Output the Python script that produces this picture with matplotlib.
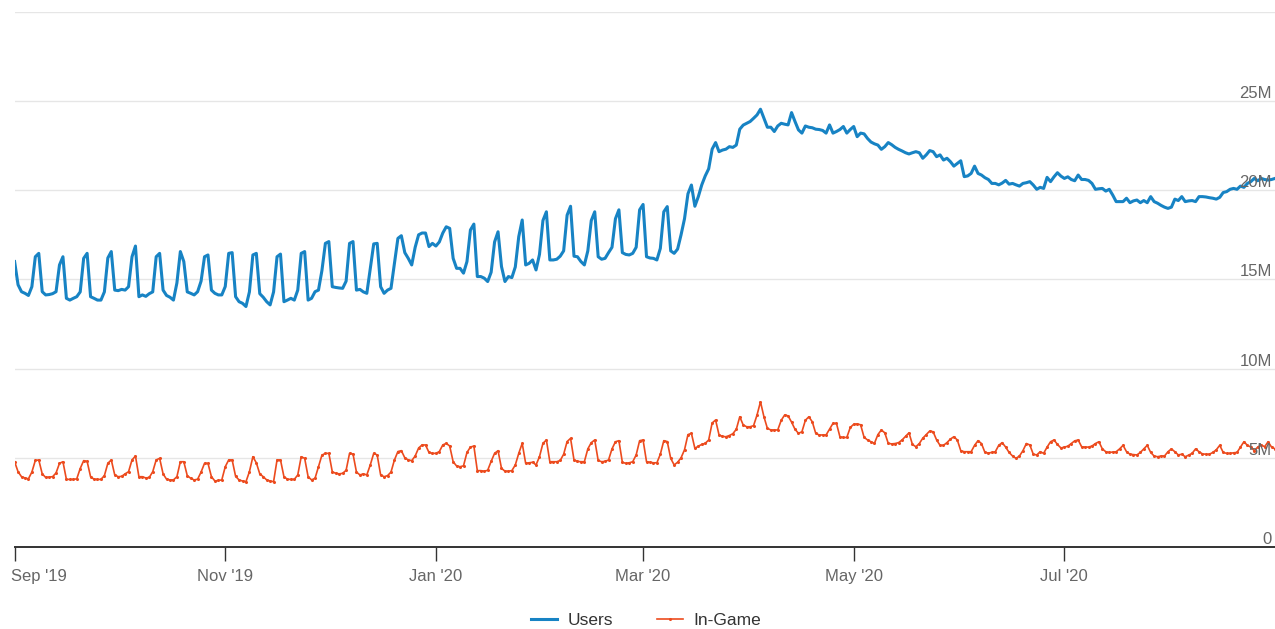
import matplotlib
matplotlib.use("Agg")
import matplotlib.pyplot as plt
import matplotlib.transforms as mtrans
from matplotlib.ticker import FixedLocator
import pandas as pd

plt.rcParams['font.family'] = ['Liberation Sans', 'DejaVu Sans']

start_date = "2019-09-01"

users = [
    16.0, 14.7, 14.31, 14.22, 14.1, 14.59, 16.27,
    16.46, 14.31, 14.13, 14.15, 14.2, 14.31, 15.81,
    16.27, 13.94, 13.84, 13.94, 14.03, 14.3, 16.18,
    16.46, 14.03, 13.94, 13.84, 13.84, 14.3, 16.2,
    16.56, 14.4, 14.37, 14.44, 14.4, 14.59, 16.27,
    16.87, 14.03, 14.13, 14.05, 14.2, 14.3, 16.27,
    16.46, 14.4, 14.1, 14.0, 13.84, 14.8, 16.56,
    16.0, 14.3, 14.22, 14.13, 14.31, 14.9, 16.27,
    16.37, 14.4, 14.22, 14.13, 14.13, 14.6, 16.46,
    16.5, 14.03, 13.75, 13.66, 13.48, 14.3, 16.37,
    16.46, 14.2, 14.0, 13.75, 13.57, 14.3, 16.27,
    16.42, 13.75, 13.84, 13.94, 13.84, 14.4, 16.46,
    16.56, 13.84, 13.94, 14.31, 14.4, 15.5, 17.02,
    17.12, 14.59, 14.55, 14.52, 14.5, 14.9, 17.02,
    17.12, 14.4, 14.44, 14.3, 14.22, 15.6, 16.99,
    17.02, 14.59, 14.22, 14.4, 14.5, 15.9, 17.3,
    17.45, 16.5, 16.18, 15.81, 16.8, 17.5, 17.6,
    17.6, 16.84, 17.02, 16.87, 17.1, 17.6, 17.95,
    17.86, 16.18, 15.62, 15.62, 15.35, 16.0, 17.77,
    18.1, 15.16, 15.16, 15.07, 14.88, 15.4, 17.1,
    17.67, 15.72, 14.88, 15.16, 15.1, 15.7, 17.4,
    18.33, 15.81, 15.9, 16.09, 15.53, 16.4, 18.3,
    18.79, 16.09, 16.09, 16.13, 16.3, 16.6, 18.6,
    19.1, 16.3, 16.27, 16.0, 15.81, 16.6, 18.3,
    18.79, 16.27, 16.13, 16.18, 16.5, 16.8, 18.4,
    18.9, 16.5, 16.4, 16.37, 16.46, 16.8, 18.9,
    19.2, 16.27, 16.2, 16.18, 16.09, 16.74, 18.79,
    19.08, 16.6, 16.46, 16.7, 17.5, 18.4, 19.8,
    20.29, 19.1, 19.64, 20.3, 20.8, 21.2, 22.3,
    22.67, 22.16, 22.25, 22.3, 22.44, 22.4, 22.53,
    23.42, 23.65, 23.75, 23.85, 24.03, 24.22, 24.54,
    24.03, 23.53, 23.53, 23.29, 23.6, 23.75, 23.7,
    23.66, 24.35, 23.85, 23.38, 23.2, 23.6, 23.53,
    23.5, 23.42, 23.4, 23.35, 23.2, 23.66, 23.2,
    23.29, 23.4, 23.57, 23.2, 23.4, 23.57, 23.0,
    23.2, 23.16, 22.9, 22.7, 22.6, 22.53, 22.29,
    22.44, 22.67, 22.55, 22.4, 22.29, 22.2, 22.1,
    22.03, 22.1, 22.16, 22.1, 21.79, 21.98, 22.22,
    22.16, 21.88, 21.98, 21.69, 21.79, 21.6, 21.35,
    21.5, 21.65, 20.76, 20.8, 20.94, 21.35, 20.94,
    20.85, 20.7, 20.6, 20.38, 20.38, 20.3, 20.4,
    20.55, 20.34, 20.38, 20.3, 20.23, 20.38, 20.42,
    20.48, 20.29, 20.05, 20.16, 20.1, 20.72, 20.48,
    20.75, 20.98, 20.79, 20.66, 20.75, 20.6, 20.53,
    20.85, 20.6, 20.6, 20.55, 20.38, 20.05, 20.08,
    20.1, 19.95, 20.05, 19.73, 19.36, 19.36, 19.36,
    19.55, 19.3, 19.4, 19.45, 19.3, 19.42, 19.3,
    19.64, 19.36, 19.27, 19.15, 19.05, 18.98, 19.05,
    19.5, 19.42, 19.64, 19.36, 19.4, 19.42, 19.36,
    19.64, 19.64, 19.62, 19.58, 19.55, 19.5, 19.6,
    19.87, 19.92, 20.05, 20.1, 20.05, 20.23, 20.16,
    20.38, 20.48, 20.66, 20.53, 20.66, 20.6, 20.57,
    20.6, 20.66,
]

in_game = [
    4.78, 4.22, 3.94, 3.87, 3.82, 4.2, 4.85,
    4.88, 4.1, 3.9, 3.92, 3.94, 4.15, 4.69,
    4.78, 3.79, 3.79, 3.79, 3.82, 4.4, 4.84,
    4.8, 3.94, 3.8, 3.79, 3.79, 4.0, 4.69,
    4.88, 4.04, 3.94, 3.96, 4.1, 4.22, 4.88,
    5.1, 3.94, 3.94, 3.87, 3.9, 4.22, 4.88,
    4.97, 4.1, 3.8, 3.76, 3.76, 3.94, 4.78,
    4.78, 4.0, 3.85, 3.76, 3.8, 4.2, 4.69,
    4.69, 3.94, 3.7, 3.73, 3.76, 4.5, 4.88,
    4.88, 3.96, 3.76, 3.7, 3.66, 4.22, 5.06,
    4.72, 4.1, 3.94, 3.76, 3.7, 3.66, 4.88,
    4.88, 3.94, 3.8, 3.79, 3.79, 4.04, 5.06,
    4.97, 3.94, 3.76, 3.85, 4.5, 5.15, 5.25,
    5.25, 4.22, 4.13, 4.1, 4.13, 4.3, 5.25,
    5.21, 4.2, 4.04, 4.1, 4.04, 4.6, 5.25,
    5.16, 4.04, 3.94, 4.0, 4.2, 4.88, 5.35,
    5.4, 5.0, 4.88, 4.84, 5.1, 5.55, 5.72,
    5.72, 5.3, 5.25, 5.25, 5.35, 5.72, 5.81,
    5.66, 4.78, 4.54, 4.5, 4.55, 5.3, 5.6,
    5.66, 4.28, 4.28, 4.25, 4.3, 4.8, 5.25,
    5.4, 4.41, 4.25, 4.25, 4.28, 4.6, 5.25,
    5.81, 4.69, 4.72, 4.75, 4.6, 5.06, 5.81,
    6.0, 4.78, 4.78, 4.78, 4.85, 5.2, 5.91,
    6.09, 4.88, 4.8, 4.78, 4.78, 5.5, 5.85,
    6.0, 4.85, 4.78, 4.8, 4.88, 5.5, 5.9,
    5.96, 4.75, 4.69, 4.72, 4.78, 5.16, 5.96,
    6.0, 4.78, 4.75, 4.72, 4.72, 5.2, 5.96,
    5.91, 4.97, 4.6, 4.75, 5.0, 5.45, 6.3,
    6.37, 5.53, 5.65, 5.75, 5.81, 6.0, 6.95,
    7.12, 6.28, 6.2, 6.18, 6.25, 6.35, 6.6,
    7.3, 6.84, 6.74, 6.74, 6.8, 7.4, 8.14,
    7.3, 6.65, 6.56, 6.56, 6.56, 7.1, 7.4,
    7.35, 7.0, 6.6, 6.37, 6.46, 7.1, 7.3,
    7.02, 6.37, 6.28, 6.28, 6.28, 6.6, 6.93,
    6.93, 6.18, 6.14, 6.14, 6.7, 6.88, 6.9,
    6.85, 6.15, 6.0, 5.9, 5.81, 6.3, 6.56,
    6.4, 5.81, 5.78, 5.8, 5.85, 6.0, 6.2,
    6.4, 5.75, 5.62, 5.8, 6.1, 6.3, 6.5,
    6.46, 6.0, 5.7, 5.7, 5.85, 6.05, 6.18,
    6.0, 5.4, 5.34, 5.34, 5.34, 5.7, 5.96,
    5.8, 5.3, 5.27, 5.3, 5.34, 5.7, 5.85,
    5.6, 5.3, 5.1, 4.97, 5.1, 5.4, 5.8,
    5.72, 5.2, 5.16, 5.34, 5.25, 5.6, 5.9,
    6.0, 5.75, 5.55, 5.6, 5.65, 5.8, 5.95,
    6.0, 5.62, 5.6, 5.6, 5.66, 5.8, 5.9,
    5.5, 5.34, 5.3, 5.32, 5.34, 5.5, 5.7,
    5.34, 5.2, 5.18, 5.16, 5.3, 5.5, 5.7,
    5.3, 5.1, 5.06, 5.1, 5.1, 5.34, 5.5,
    5.34, 5.16, 5.2, 5.06, 5.15, 5.25, 5.5,
    5.34, 5.22, 5.2, 5.2, 5.3, 5.45, 5.7,
    5.3, 5.25, 5.25, 5.28, 5.3, 5.6, 5.9,
    5.7, 5.6, 5.4, 5.6, 5.72, 5.62, 5.9,
    5.6, 5.5,
]

tick_dates = ["2019-09-01", "2019-11-01", "2020-01-01", "2020-03-01", "2020-05-01", "2020-07-01"]
tick_labels = ["Sep '19", "Nov '19", "Jan '20", "Mar '20", "May '20", "Jul '20"]
y_ticks = [0, 5, 10, 15, 20, 25, 30]
y_labels = ["0", "5M", "10M", "15M", "20M", "25M", ""]

dates = pd.date_range(start_date, periods=len(users), freq="D")

W, H = 1275, 629
fig = plt.figure(figsize=(W / 100, H / 100), dpi=100)
ax = fig.add_axes([14.6 / W, 1 - 547 / H, (1275 - 14.6) / W, (547 - 11.8) / H])

blue = "#1783c4"
red = "#ec4b1e"

ax.plot(dates, users, color=blue, lw=2.2, solid_joinstyle="round", label="Users", zorder=3)
ax.plot(dates, in_game, color=red, lw=1.2, marker="o", markersize=1.2, label="In-Game", zorder=3)

ax.set_xlim(dates[0], dates[-1])
ax.set_ylim(0, 30)

for sp in ["top", "right", "left"]:
    ax.spines[sp].set_visible(False)
ax.spines["bottom"].set_color("#333333")
ax.spines["bottom"].set_linewidth(1.4)

ax.yaxis.set_major_locator(FixedLocator(y_ticks))
ax.grid(axis="y", color="#e6e6e6", lw=1.0)
ax.tick_params(axis="y", length=0, labelleft=False)
for v, lab in zip(y_ticks, y_labels):
    if lab:
        ax.text(1272 / W, v, lab, transform=mtrans.blended_transform_factory(fig.transFigure, ax.transData),
                ha="right", va="bottom", fontsize=12, color="#666666", zorder=4)

ax.set_xticks(pd.to_datetime(tick_dates))
ax.set_xticklabels(tick_labels)
ax.tick_params(axis="x", direction="out", length=10, width=1.0, color="#333333",
               labelsize=12, labelcolor="#666666", pad=6)
first = ax.get_xticklabels()[0]
first.set_horizontalalignment("left")
first.set_transform(first.get_transform() + mtrans.ScaledTranslation(-4 / 100, 0, fig.dpi_scale_trans))

leg = fig.legend(loc="center", bbox_to_anchor=(646 / W, 1 - 620 / H), ncol=2, frameon=False,
                 fontsize=12.5, handlelength=1.5, columnspacing=2.5, handletextpad=0.6)
for t in leg.get_texts():
    t.set_color("#333333")

fig.savefig("out.png", dpi=100)
